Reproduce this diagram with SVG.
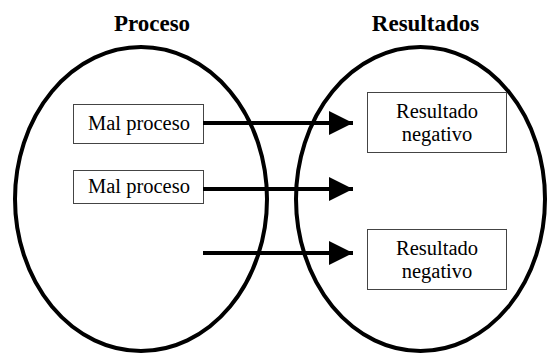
<svg xmlns="http://www.w3.org/2000/svg" width="548" height="354" viewBox="0 0 548 354">
<style>
text{font-family:'Liberation Serif','Times New Roman',serif;fill:#000}
.title{font-size:23px;font-weight:bold}
.lbl{font-size:20.5px}
.box{fill:#fff;stroke:#444;stroke-width:1}
.ell{fill:none;stroke:#000;stroke-width:4}
.conn{stroke:#000;stroke-width:4;fill:none}
</style>
<defs>
<marker id="ah" markerUnits="userSpaceOnUse" markerWidth="26" markerHeight="26" refX="24" refY="12" orient="auto">
<polygon points="0,0 24,12 0,24" fill="#000"/>
</marker>
</defs>
<rect width="548" height="354" fill="#fff"/>
<g id="proceso">
<text class="title" x="152" y="31" text-anchor="middle">Proceso</text>
<ellipse class="ell" cx="141" cy="199" rx="126" ry="152"/>
</g>
<g id="resultados">
<text class="title" x="425.5" y="31" text-anchor="middle">Resultados</text>
<ellipse class="ell" cx="420.5" cy="199" rx="124.5" ry="152"/>
</g>
<g id="mal1">
<rect class="box" x="73.5" y="104.5" width="130" height="39"/>
<text class="lbl" x="139" y="130" text-anchor="middle">Mal proceso</text>
</g>
<g id="mal2">
<rect class="box" x="73.5" y="170.5" width="130" height="33"/>
<text class="lbl" x="139" y="193" text-anchor="middle">Mal proceso</text>
</g>
<g id="res1">
<rect class="box" x="367.5" y="92.5" width="139" height="60"/>
<text class="lbl" x="437" y="118" text-anchor="middle">Resultado</text>
<text class="lbl" x="437" y="141" text-anchor="middle">negativo</text>
</g>
<g id="res2">
<rect class="box" x="367.5" y="229.5" width="139" height="60"/>
<text class="lbl" x="437" y="255" text-anchor="middle">Resultado</text>
<text class="lbl" x="437" y="278" text-anchor="middle">negativo</text>
</g>
<g id="connectors">
<line class="conn" x1="203" y1="123" x2="353" y2="123" marker-end="url(#ah)"/>
<line class="conn" x1="203" y1="189" x2="353" y2="189" marker-end="url(#ah)"/>
<line class="conn" x1="203" y1="253" x2="353" y2="253" marker-end="url(#ah)"/>
</g>
</svg>
